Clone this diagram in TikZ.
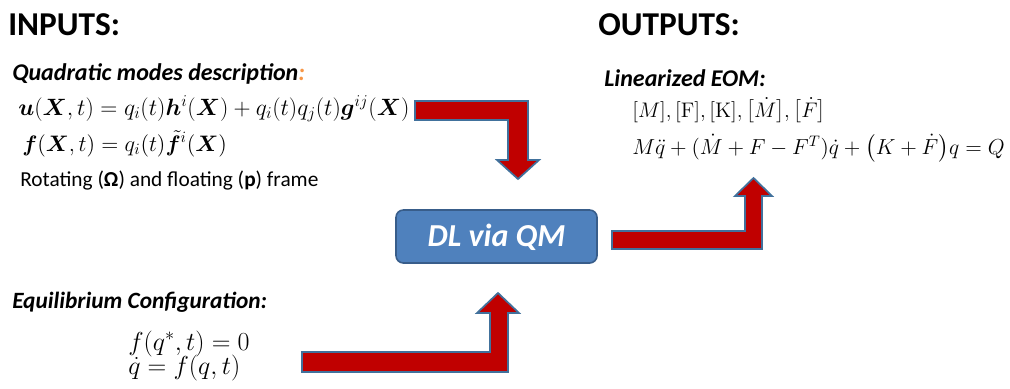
\RequirePackage{fix-cm}
\documentclass[tikz,border=0pt]{standalone}
\usepackage{amsmath}
\usepackage{bm}
\usepackage[no-math]{fontspec}
\setmainfont{Carlito}
\definecolor{arrowred}{HTML}{C00000}
\definecolor{arrowedge}{HTML}{41719C}
\definecolor{boxfill}{HTML}{4F81BD}
\definecolor{boxedge}{HTML}{385D8A}
\definecolor{accent}{HTML}{F79646}
\tikzset{
  title/.style={anchor=base west, inner sep=0pt, font=\fontsize{25}{28}\selectfont\bfseries},
  subhead/.style={anchor=base west, inner sep=0pt, font=\fontsize{18}{21}\selectfont\bfseries\itshape},
  body/.style={anchor=base west, inner sep=0pt, font=\fontsize{16}{19}\selectfont},
  formula/.style={anchor=base west, inner sep=0pt, font=\fontsize{#1}{#1}\selectfont},
  bentarrow/.style={fill=arrowred, draw=arrowedge, line width=1.3pt, line join=miter},
  process/.style={rounded corners=5.5pt, fill=boxfill, draw=boxedge, line width=1.2pt}
}
\begin{document}
\begin{tikzpicture}[x=0.75pt,y=-0.75pt]
\useasboundingbox (0,0) rectangle (1010,389);

% headings
\node[title] (inputs) at (8,35) {INPUTS:};
\node[title] (outputs) at (598,35) {OUTPUTS:};

% inputs: quadratic modes
\node[subhead] (qmhead) at (12,80) {Quadratic modes description\textcolor{accent}{:}};
\node[formula=17.7] (ueq) at (18,115) {$\bm{u}(\bm{X},t) = q_i(t)\bm{h}^{i}(\bm{X}) + q_i(t)q_j(t)\bm{g}^{ij}(\bm{X})$};
\node[formula=16.8] (feq) at (22,151) {$\bm{f}(\bm{X},t) = q_i(t)\tilde{\bm{f}}^{i}(\bm{X})$};
\node[body] (frame) at (20,186) {Rotating (\textbf{Ω}) and floating (\textbf{p}) frame};

% inputs: equilibrium
\node[subhead, font=\fontsize{17.5}{21}\selectfont\bfseries\itshape] (eqhead) at (12,308) {Equilibrium Configuration:};
\node[formula=19.5] (eq1) at (128,350) {$f(q^{*},t) = 0$};
\node[formula=19.5] (eq2) at (128,374) {$\dot q = f(q,t)$};

% outputs
\node[subhead] (eomhead) at (604,86) {Linearized EOM:};
\node[formula=15.8] (mats) at (632,117) {$[M], [\mathrm{F}], [\mathrm{K}], \big[\dot M\big], \big[\dot F\big]$};
\node[formula=16.3] (eom) at (632,154) {$M\ddot q + (\dot M + F - F^{T})\dot q + \big(K + \dot F\big)q = Q$};

% central process
\draw[process] (396,210) rectangle (597,263);
\node[text=white, font=\fontsize{24}{27}\selectfont\bfseries\itshape] (dl) at (496.5,237) {DL via QM};

% bent block arrows
\draw[bentarrow] (415,101) -- (528,101) -- (528,160) -- (539,160) -- (518,179)
  -- (497,160) -- (508,160) -- (508,120) -- (415,120) -- cycle;
\draw[bentarrow] (302,352) -- (490,352) -- (490,313) -- (477,313) -- (498,293)
  -- (519,313) -- (508,313) -- (508,372) -- (302,372) -- cycle;
\draw[bentarrow] (612,231) -- (745,231) -- (745,196) -- (735,196) -- (753.5,178)
  -- (772,196) -- (762,196) -- (762,249) -- (612,249) -- cycle;
\end{tikzpicture}
\end{document}
